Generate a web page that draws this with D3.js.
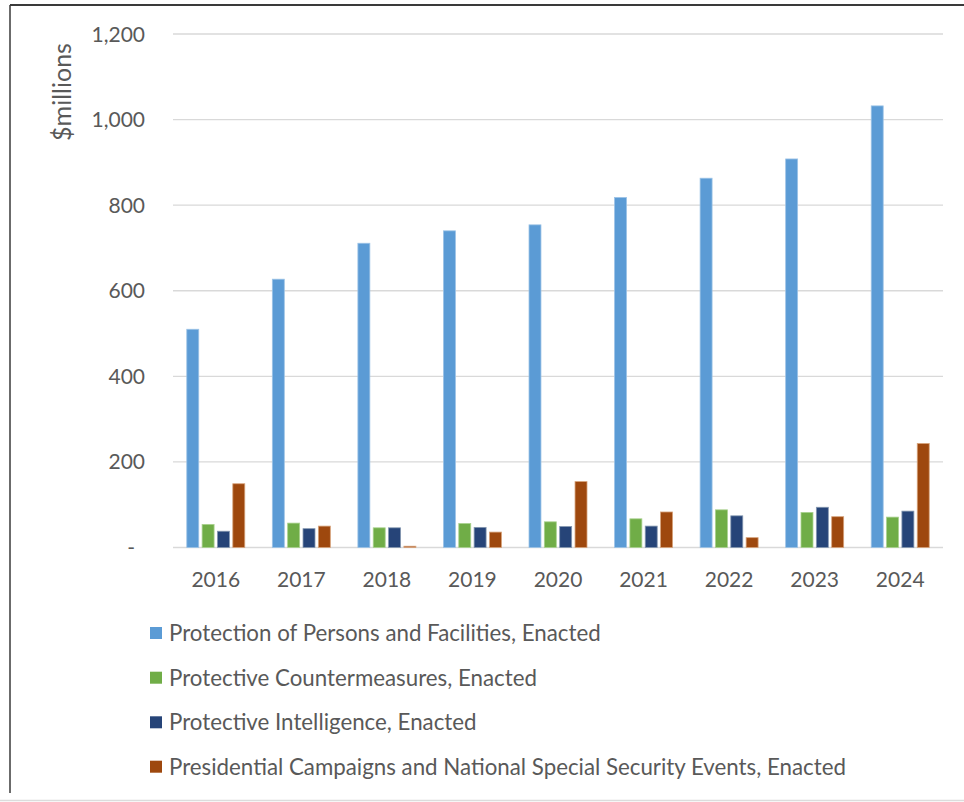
<!DOCTYPE html>
<html>
<head>
<meta charset="utf-8">
<script src="https://cdn.jsdelivr.net/npm/d3@7"></script>
<style>
  html, body { margin: 0; padding: 0; background: #fff; }
  svg { display: block; }
  text { font-family: Lato, "Open Sans", sans-serif; fill: #595959; }
</style>
</head>
<body>
<svg id="chart" width="964" height="802"></svg>
<script>
const years = ["2016","2017","2018","2019","2020","2021","2022","2023","2024"];
const seriesNames = [
  "Protection of Persons and Facilities, Enacted",
  "Protective Countermeasures, Enacted",
  "Protective Intelligence, Enacted",
  "Presidential Campaigns and National Special Security Events, Enacted"
];
const protectionPersons = [510, 627, 711, 740, 754, 818, 863, 908, 1032];
const countermeasures   = [54, 57, 46, 56, 60, 67, 88, 82, 71];
const intelligence      = [38, 44, 46, 47, 49, 50, 74, 94, 85];
const campaignsNSSE     = [149, 50, 3, 36, 154, 83, 23, 72, 243];
const yTicks = [0, 200, 400, 600, 800, 1000, 1200];
const colors = ["#5B9BD5", "#70AD47", "#264478", "#9E480E"];
const strokes = ["#9cc3e6", "#a9d18e", "#8497b0", "#d6a27a"];

const seriesValues = [protectionPersons, countermeasures, intelligence, campaignsNSSE];

const svg = d3.select("#chart");

// frame
svg.append("line").attr("x1", 10).attr("y1", 5).attr("x2", 964).attr("y2", 5)
  .attr("stroke", "#3a3a3a").attr("stroke-width", 2);
svg.append("line").attr("x1", 10).attr("y1", 5).attr("x2", 10).attr("y2", 793)
  .attr("stroke", "#3a3a3a").attr("stroke-width", 1.5);
svg.append("line").attr("x1", 0).attr("y1", 800.5).attr("x2", 964).attr("y2", 800.5)
  .attr("stroke", "#dcdcdc").attr("stroke-width", 1.5);

const x0 = d3.scaleBand().domain(years).range([173, 943]).paddingInner(0).paddingOuter(0);
const x1 = d3.scaleBand().domain(d3.range(4)).range([-29, 29]).paddingInner(0.22).paddingOuter(0);
const y = d3.scaleLinear().domain([0, 1200]).range([547.5, 34]);

// gridlines
svg.append("g").selectAll("line").data(yTicks).join("line")
  .attr("x1", 173).attr("x2", 943)
  .attr("y1", d => y(d)).attr("y2", d => y(d))
  .attr("stroke", "#d9d9d9").attr("stroke-width", 1.4);

// y tick labels
const yLab = svg.append("g").attr("font-size", 21);
yLab.selectAll("text").data(yTicks).join("text")
  .attr("x", d => d === 0 ? 135 : 145)
  .attr("y", d => y(d))
  .attr("dy", "0.36em")
  .attr("text-anchor", "end")
  .text(d => d === 0 ? "-" : d3.format(",")(d));

// y title
svg.append("text")
  .attr("transform", "translate(71,92) rotate(-90)")
  .attr("text-anchor", "middle")
  .attr("font-size", 25)
  .text("$millions");

// bars
const groups = svg.append("g").selectAll("g").data(years).join("g")
  .attr("transform", d => `translate(${x0(d) + x0.bandwidth() / 2},0)`);
groups.selectAll("rect").data((d, i) => seriesValues.map((s, k) => ({k, v: s[i]}))).join("rect")
  .attr("x", d => x1(d.k))
  .attr("width", x1.bandwidth())
  .attr("y", d => y(d.v))
  .attr("height", d => y(0) - y(d.v))
  .attr("fill", d => colors[d.k])
  .attr("stroke", d => strokes[d.k])
  .attr("stroke-width", 0.8);

// x labels
svg.append("g").selectAll("text").data(years).join("text")
  .attr("x", d => x0(d) + x0.bandwidth() / 2)
  .attr("y", 587)
  .attr("text-anchor", "middle")
  .attr("font-size", 21)
  .text(d => d);

// legend
const legendY = [633, 677.7, 722.3, 766.7];
const lg = svg.append("g").selectAll("g").data(seriesNames).join("g")
  .attr("transform", (d, i) => `translate(150,${legendY[i]})`);
lg.append("rect").attr("x", 0).attr("y", -6).attr("width", 12).attr("height", 12)
  .attr("fill", (d, i) => colors[i]);
lg.append("text").attr("x", 19).attr("y", 0).attr("dy", "0.36em")
  .attr("font-size", 22.3).text(d => d);
</script>
</body>
</html>
